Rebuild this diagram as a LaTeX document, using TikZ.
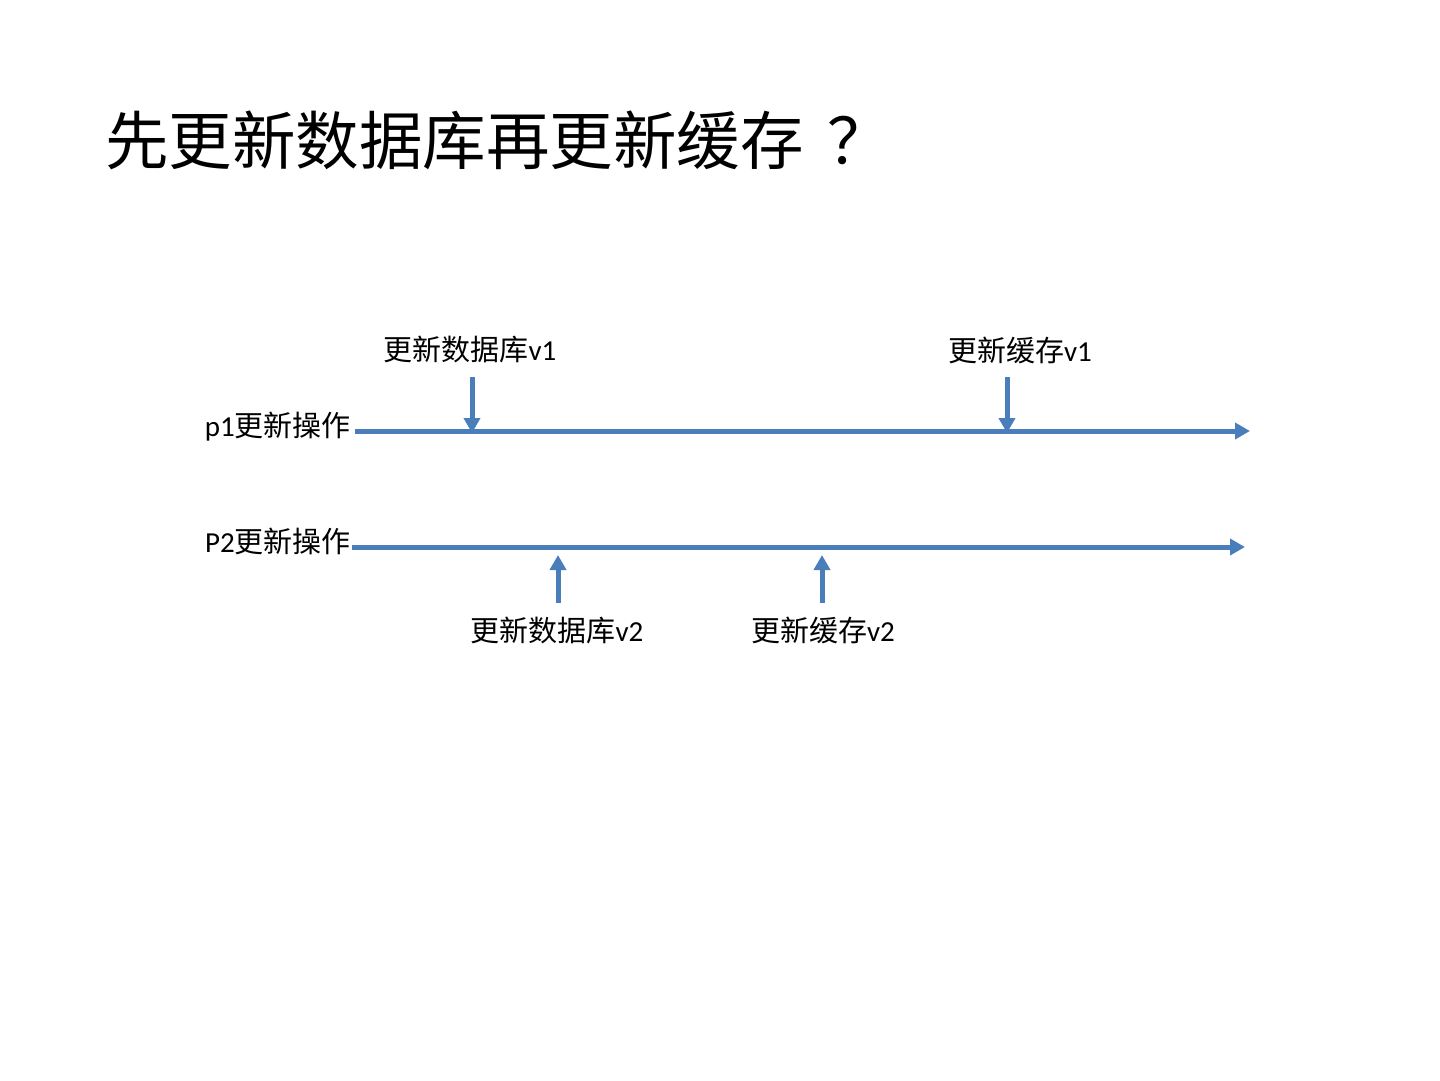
\documentclass[tikz,border=0pt]{standalone}
\usepackage{fontspec}
\setmainfont{Carlito}
\newfontfamily\cjk{Noto Sans CJK SC}
\usetikzlibrary{arrows.meta}
\definecolor{lineblue}{HTML}{4A7EBB}
\tikzset{
  timeline/.style={draw=lineblue, line width=5pt, -{Triangle[length=15pt,width=16pt]}},
  event/.style={draw=lineblue, line width=5pt, -{Triangle[length=15pt,width=16pt]}},
  lbl/.style={inner sep=0pt, font=\fontsize{29}{32}\selectfont},
  ttl/.style={inner sep=0pt, anchor=west, font=\cjk\fontsize{63.5}{70}\selectfont}
}
\begin{document}
\begin{tikzpicture}[x=1pt,y=-1pt]
\useasboundingbox (0,0) rectangle (1440,1080);
\node[ttl] (title) at (105,140) {先更新数据库再更新缓存\hspace{24pt}？};
% timelines
\node[lbl, anchor=east] (p1) at (351,427) {p1{\cjk 更新操作}};
\node[lbl, anchor=east] (p2) at (351,541) {P2{\cjk 更新操作}};
\coordinate (p1s) at (355,431);
\coordinate (p1e) at (1250,431);
\coordinate (p2s) at (352,547);
\coordinate (p2e) at (1245,547);
\draw[timeline] (p1s) -- (p1e);
\draw[timeline] (p2s) -- (p2e);
% p1 events
\node[lbl] (db1) at (470,349) {{\cjk 更新数据库}v1};
\node[lbl] (c1) at (1020,350) {{\cjk 更新缓存}v1};
\coordinate (db1a) at (472,377);
\coordinate (db1b) at (472,433);
\coordinate (c1a) at (1007,377);
\coordinate (c1b) at (1007,433);
\draw[event] (db1a) -- (db1b);
\draw[event] (c1a) -- (c1b);
% p2 events
\node[lbl] (db2) at (557,630) {{\cjk 更新数据库}v2};
\node[lbl] (c2) at (823,630) {{\cjk 更新缓存}v2};
\coordinate (db2a) at (558,603);
\coordinate (db2b) at (558,555);
\coordinate (c2a) at (822,603);
\coordinate (c2b) at (822,555);
\draw[event] (db2a) -- (db2b);
\draw[event] (c2a) -- (c2b);
\end{tikzpicture}
\end{document}
